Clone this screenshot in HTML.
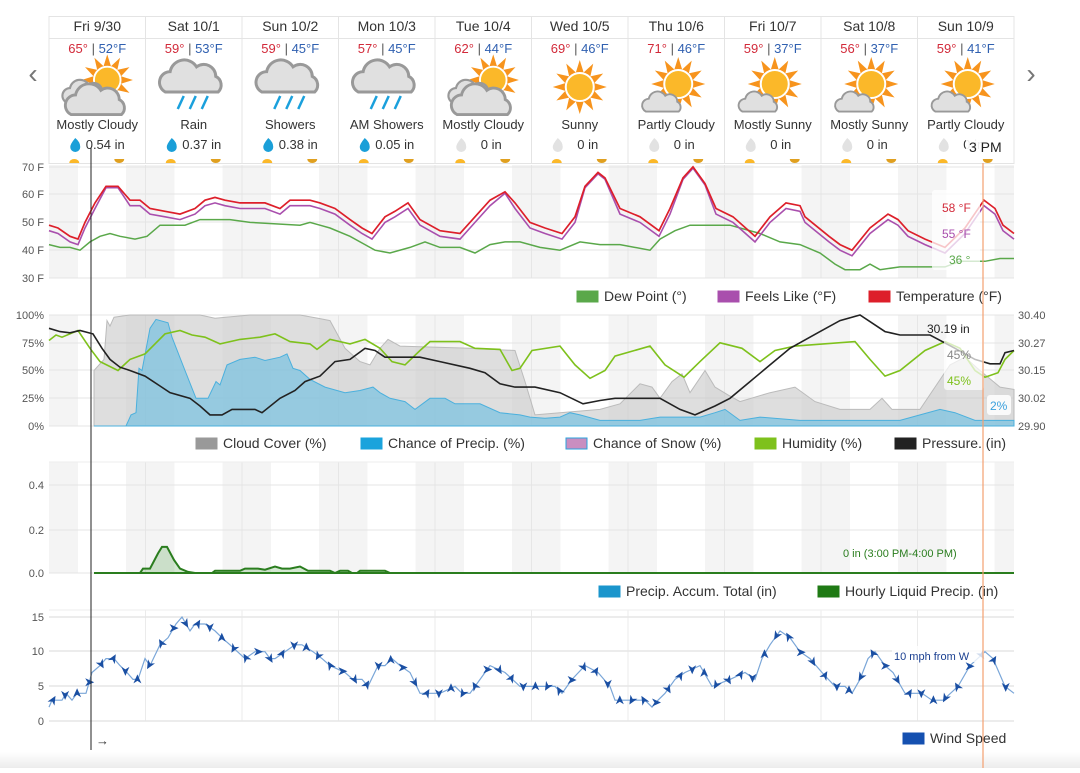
<!DOCTYPE html>
<html><head><meta charset="utf-8"><style>
body{margin:0;background:#fff;width:1080px;height:768px;overflow:hidden;font-family:"Liberation Sans",sans-serif;}
svg text{font-family:"Liberation Sans",sans-serif;}
</style></head><body>
<svg id="s" width="1080" height="768" xmlns="http://www.w3.org/2000/svg">
<defs>
<linearGradient id="bg" x1="0" y1="0" x2="0" y2="1"><stop offset="0" stop-color="#fff"/><stop offset="1" stop-color="#ececec"/></linearGradient>
<g id="sun"><polygon id="ray" fill="#f7941d" points=""/><circle r="14" fill="#fbb829" stroke="#fff" stroke-width="2"/></g>
<g id="cloud"><path d="M-22,10 a9,9 0 0 1 4,-17 a12,12 0 0 1 22,-4 a10,10 0 0 1 16,8 a8,8 0 0 1 2,13 z" fill="#e0e0e0" stroke="#999" stroke-width="2.5"/></g>
</defs>
<rect x="0" y="752" width="1080" height="16" fill="url(#bg)"/>
<g id="g"></g>
</svg>
<script>
const NS="http://www.w3.org/2000/svg";
const G=document.getElementById('g');
function el(t,a,txt){const e=document.createElementNS(NS,t);for(const k in a)e.setAttribute(k,a[k]);if(txt!==undefined)e.textContent=txt;G.appendChild(e);return e;}
(function(){let p=[];for(let i=0;i<24;i++){const a=i*Math.PI/12-Math.PI/2;const r=i%2?15:27;p.push((r*Math.cos(a)).toFixed(1)+','+(r*Math.sin(a)).toFixed(1));}document.getElementById('ray').setAttribute('points',p.join(' '));})();
const X0=49,X1=1014,DW=96.5;
const charts=[[165,278],[315,426],[462,573]];
charts.forEach(([t,b])=>{
 el('rect',{x:X0,y:t,width:X1-X0,height:b-t,fill:'#fff'});
 for(let d=0;d<10;d++){const s=X0+d*DW;
  el('rect',{x:s,y:t,width:29,height:b-t,fill:'#f4f4f4'});
  el('rect',{x:s+77,y:t,width:Math.min(19.5,X1-s-77),height:b-t,fill:'#f4f4f4'});}
 for(let d=1;d<10;d++){el('line',{x1:X0+d*DW,x2:X0+d*DW,y1:t,y2:b,stroke:'#e6e6e6'});}
});
for(let d=1;d<10;d++)el('line',{x1:X0+d*DW,x2:X0+d*DW,y1:610,y2:721,stroke:'#ebebeb'});
[167,194,222,250,278].forEach((y,i)=>{el('line',{x1:X0,x2:X1,y1:y,y2:y,stroke:'#e4e4e4'});el('text',{x:44,y:y+4,'font-size':11,fill:'#555','text-anchor':'end'},(70-10*i)+' F');});
[315,343,370,398,426].forEach((y,i)=>{el('line',{x1:X0,x2:X1,y1:y,y2:y,stroke:'#e4e4e4'});el('text',{x:44,y:y+4,'font-size':11,fill:'#555','text-anchor':'end'},['100%','75%','50%','25%','0%'][i]);el('text',{x:1018,y:y+4,'font-size':11,fill:'#555'},['30.40','30.27','30.15','30.02','29.90'][i]);});
[485,530,573].forEach((y,i)=>{el('line',{x1:X0,x2:X1,y1:y,y2:y,stroke:'#e4e4e4'});el('text',{x:44,y:y+4,'font-size':11,fill:'#555','text-anchor':'end'},['0.4','0.2','0.0'][i]);});
el('line',{x1:X0,x2:X1,y1:462,y2:462,stroke:'#eee'});
[617,651,686,721].forEach((y,i)=>{el('line',{x1:X0,x2:X1,y1:y,y2:y,stroke:'#e6e6e6','stroke-width':1.5});el('text',{x:44,y:y+4,'font-size':11,fill:'#555','text-anchor':'end'},['15','10','5','0'][i]);});
el('line',{x1:X0,x2:X1,y1:610,y2:610,stroke:'#eee'});
function path(pts,fy){return pts.map((p,i)=>(i?'L':'M')+p[0]+','+fy(p[1]).toFixed(1)).join(' ');}
function area(pts,fy,base){return path(pts,fy)+' L'+pts[pts.length-1][0]+','+base+' L'+pts[0][0]+','+base+' Z';}
const fp=v=>426-v*1.11;
const cloud=[[94,50],[104,60],[107,95],[110,90],[114,98],[130,100],[200,100],[215,97],[250,100],[300,100],[318,97],[330,95],[345,70],[360,58],[370,55],[380,70],[388,78],[400,72],[470,70],[515,68],[525,40],[535,10],[560,12],[600,15],[620,20],[640,38],[652,35],[660,25],[672,40],[682,47],[690,30],[705,50],[715,35],[728,28],[740,22],[770,30],[795,35],[815,22],[840,15],[870,15],[882,25],[892,15],[920,15],[935,35],[950,55],[965,62],[980,50],[1000,35],[1014,33]];
el('path',{d:area(cloud,fp,426),fill:'#c8c8c8','fill-opacity':0.6,stroke:'#bbb'});
const pc=[[94,0],[126,0],[131,10],[136,12],[139,52],[142,50],[150,88],[156,96],[168,93],[172,80],[185,50],[196,25],[208,25],[216,40],[220,37],[227,55],[240,60],[255,62],[265,59],[280,62],[287,65],[293,52],[300,50],[310,42],[325,35],[345,30],[360,32],[373,35],[380,30],[390,25],[405,22],[415,15],[430,25],[445,25],[455,20],[480,20],[500,12],[520,10],[530,8],[545,7],[560,8],[570,12],[580,10],[600,5],[640,5],[660,8],[700,8],[715,12],[725,15],[740,5],[760,8],[800,5],[850,5],[900,5],[920,10],[940,15],[955,12],[975,5],[1014,5]];
el('path',{d:area(pc,fp,426),fill:'#7dc3e0','fill-opacity':0.75,stroke:'#4bb0dd'});
const hum=[[49,77],[56,82],[62,80],[78,86],[90,70],[100,58],[118,50],[130,60],[145,65],[165,83],[180,86],[192,82],[205,80],[220,74],[240,78],[260,80],[275,83],[290,76],[310,74],[317,69],[330,78],[350,74],[365,78],[380,70],[392,58],[405,55],[420,68],[430,76],[460,76],[475,70],[500,69],[512,50],[520,52],[532,68],[560,72],[575,55],[590,43],[605,50],[615,63],[650,72],[665,55],[684,44],[700,58],[720,75],[742,70],[760,58],[775,68],[795,72],[855,76],[870,60],[885,45],[900,50],[925,68],[945,76],[960,70],[975,50],[985,44],[998,48],[1005,60],[1014,68]];
el('path',{d:path(hum,fp),fill:'none',stroke:'#7ec11c','stroke-width':1.6});
const pr=[[49,88],[60,85],[70,84],[80,86],[93,83],[102,70],[110,60],[120,53],[130,50],[145,45],[160,36],[170,30],[190,25],[200,18],[210,10],[222,10],[232,15],[255,15],[262,12],[280,25],[295,32],[305,40],[320,45],[335,58],[350,60],[365,70],[375,68],[385,62],[420,62],[440,58],[470,52],[485,48],[500,38],[515,35],[535,35],[560,30],[583,20],[600,23],[615,25],[660,25],[680,15],[695,10],[715,18],[730,25],[750,40],[770,55],[790,70],[820,85],[840,95],[860,100],[885,85],[900,82],[930,82],[955,70],[975,60],[990,56],[1000,56],[1005,66],[1014,68]];
el('path',{d:path(pr,fp),fill:'none',stroke:'#222','stroke-width':1.6});
const ft=v=>278-(v-30)*2.78;
const temp=[[49,49],[58,48],[70,45],[78,44],[85,50],[95,57],[106,63],[118,63],[130,58],[140,58],[150,55],[165,54],[180,53],[195,55],[205,58],[215,59],[225,58],[240,57],[255,57],[265,57],[280,55],[290,58],[310,58],[320,57],[335,55],[350,51],[362,48],[372,46],[385,52],[395,54],[408,57],[420,51],[440,47],[460,46],[475,52],[490,58],[505,61],[515,57],[530,50],[545,48],[562,46],[575,52],[585,63],[598,68],[605,66],[620,55],[640,52],[659,47],[670,55],[683,66],[693,70],[705,64],[716,55],[733,52],[755,45],[770,52],[786,57],[800,56],[805,52],[829,45],[840,42],[852,40],[870,48],[888,53],[898,51],[908,47],[925,44],[945,41],[965,48],[984,58],[995,55],[1003,49],[1014,46]];
const feels=temp.map(p=>[p[0],p[1]>=60?p[1]-0.5:p[1]-2]);
const dew=[[49,42],[60,41],[70,41],[80,40],[90,43],[100,45],[110,46],[120,45],[135,44],[147,45],[160,49],[185,49],[200,51],[230,51],[250,50],[300,49],[310,50],[320,49],[330,48],[350,45],[365,42],[375,40],[390,39],[410,41],[425,43],[440,41],[460,41],[475,39],[490,42],[505,43],[520,43],[540,41],[560,40],[580,43],[600,42],[620,42],[650,40],[660,44],[675,47],[690,49],[730,49],[760,46],[780,43],[800,42],[820,39],[835,35],[845,33],[860,33],[870,35],[880,33],[900,34],[945,34],[960,36],[975,36],[985,36],[1000,37],[1014,37]];
el('path',{d:path(dew,ft),fill:'none',stroke:'#5aa84a','stroke-width':1.5});
el('path',{d:path(feels,ft),fill:'none',stroke:'#a94fad','stroke-width':1.6});
el('path',{d:path(temp,ft),fill:'none',stroke:'#dd1f2a','stroke-width':1.7});
const fq=v=>573-v*217.5;
const lp=[[94,0],[140,0],[143,0.02],[150,0.02],[158,0.09],[162,0.12],[167,0.12],[174,0.06],[180,0.02],[188,0.005],[195,0],[212,0],[215,0.01],[240,0.01],[245,0.02],[258,0.02],[265,0.015],[275,0.03],[282,0.02],[290,0.02],[300,0.03],[308,0.01],[330,0.01],[335,0],[340,0.01],[348,0.01],[352,0],[357,0],[360,0.01],[385,0.01],[390,0],[1014,0]];
el('path',{d:area(lp,fq,573),fill:'#2a8a1f','fill-opacity':0.2,stroke:'#2a7d1e','stroke-width':2});
const fw=v=>721-v*6.93;
const wind=[[49,2],[52,3],[62,3],[66,4],[72,3],[77,4],[86,4],[92,7],[100,8],[106,9],[114,9],[120,8],[127,7],[133,6],[138,6],[145,9],[150,8],[160,11],[168,12],[176,14],[182,15],[190,13],[195,14],[205,14],[215,13],[222,12],[230,11],[245,9],[255,10],[265,10],[270,9],[275,9],[285,10],[295,11],[302,11],[313,10],[322,9],[330,8],[345,7],[353,6],[362,6],[368,5],[378,8],[385,8],[392,9],[400,8],[410,7],[420,4],[440,4],[455,5],[462,4],[470,4],[475,5],[490,8],[505,7],[520,5],[555,5],[562,4],[572,6],[585,8],[598,7],[610,5],[615,3],[645,3],[652,2],[658,3],[665,4],[675,6],[685,7],[700,8],[712,5],[730,6],[745,7],[755,6],[762,9],[770,11],[775,12],[780,13],[790,12],[800,10],[810,9],[822,7],[835,5],[845,5],[852,4],[860,6],[868,9],[875,10],[885,8],[893,7],[905,4],[922,4],[932,3],[943,3],[958,5],[970,8],[985,10],[993,9],[1005,5],[1014,4]];
el('path',{d:path(wind,fw),fill:'none',stroke:'#7aa6d8','stroke-width':1.2});
function interp(x){for(let i=1;i<wind.length;i++){if(wind[i][0]>=x){const a=wind[i-1],b=wind[i];return a[1]+(b[1]-a[1])*(x-a[0])/(b[0]-a[0]);}}return 4;}
for(let x=53;x<1012;x+=12.06){const v=interp(x),y=fw(v);const ang=[0,-60,-90,-120,60,90,120][Math.floor(x*7.3)%7];
 el('path',{d:'M5,0 L-4,-4 L-1.5,0 L-4,4 Z',fill:'#1a4fa3',transform:`translate(${x.toFixed(1)},${y.toFixed(1)}) rotate(${ang})`});}
el('rect',{x:X0,y:16.5,width:X1-X0,height:147,fill:'#fff',stroke:'#e4e4e4'});
el('line',{x1:X0,x2:X1,y1:38.5,y2:38.5,stroke:'#e4e4e4'});
const days=[['Fri 9/30','65°','52°F','Mostly Cloudy','0.54 in','mc',1],['Sat 10/1','59°','53°F','Rain','0.37 in','rain',1],['Sun 10/2','59°','45°F','Showers','0.38 in','sh',1],['Mon 10/3','57°','45°F','AM Showers','0.05 in','sh',1],['Tue 10/4','62°','44°F','Mostly Cloudy','0 in','mc',0],['Wed 10/5','69°','46°F','Sunny','0 in','sun',0],['Thu 10/6','71°','46°F','Partly Cloudy','0 in','pc',0],['Fri 10/7','59°','37°F','Mostly Sunny','0 in','pc',0],['Sat 10/8','56°','37°F','Mostly Sunny','0 in','pc',0],['Sun 10/9','59°','41°F','Partly Cloudy','0 in','pc',0]];
days.forEach((d,i)=>{const c=X0+i*DW+DW/2;
 if(i)el('line',{x1:X0+i*DW,x2:X0+i*DW,y1:16.5,y2:163,stroke:'#e4e4e4'});
 el('text',{x:c,y:31,'font-size':14,fill:'#333','text-anchor':'middle'},d[0]);
 const t=el('text',{x:c,y:53,'font-size':13,'text-anchor':'middle'});
 const a=document.createElementNS(NS,'tspan');a.setAttribute('fill','#d22a3a');a.textContent=d[1]+' ';t.appendChild(a);
 const b=document.createElementNS(NS,'tspan');b.setAttribute('fill','#555');b.textContent='| ';t.appendChild(b);
 const cc=document.createElementNS(NS,'tspan');cc.setAttribute('fill','#3060b0');cc.textContent=d[2];t.appendChild(cc);
 const k=d[5];
 if(k=='mc'){el('use',{href:'#sun',transform:`translate(${c+10},80) scale(0.95)`});el('use',{href:'#cloud',transform:`translate(${c-12},94) scale(0.85)`});el('use',{href:'#cloud',transform:`translate(${c-1},103) scale(1.15)`});}
 else if(k=='sun'){el('use',{href:'#sun',transform:`translate(${c},87)`});}
 else if(k=='pc'){el('use',{href:'#sun',transform:`translate(${c+2},84)`});el('use',{href:'#cloud',transform:`translate(${c-14},104) scale(0.75)`});}
 else{el('use',{href:'#cloud',transform:`translate(${c-2},80) scale(1.2)`});
  for(let j=0;j<3;j++){const xx=c-14+j*12;el('line',{x1:xx+4,y1:96,x2:xx-2,y2:109,stroke:'#1aa0dc','stroke-width':2.5});}}
 el('text',{x:c,y:129,'font-size':13,fill:'#333','text-anchor':'middle'},d[3]);
 el('path',{d:`M${c-22},138 q-5,6 -5,9 a5,5 0 0 0 10,0 q0,-5 -5,-9z`,fill:d[6]?'#1a9fd8':'#e2e2e2'});
 el('text',{x:c+8,y:149,'font-size':13,fill:'#333','text-anchor':'middle'},d[4]);
 el('path',{d:`M${c-28},163 a5,4 0 0 1 10,0z`,fill:'#fbb829'});
 el('path',{d:`M${c+17},159 a5,4 0 0 0 10,0z`,fill:'#e0a020'});
});
el('text',{x:33,y:83,'font-size':28,fill:'#777','text-anchor':'middle'},'‹');
el('text',{x:1031,y:83,'font-size':28,fill:'#777','text-anchor':'middle'},'›');
function sw(x,y,c,st){el('rect',{x:x,y:y-10,width:21,height:11,fill:c,stroke:st||c});}
const L=[[301,[[577,'#5aa84a','Dew Point (°)'],[718,'#a94fad','Feels Like (°F)'],[869,'#dd1f2a','Temperature (°F)']]],
[448,[[196,'#999','Cloud Cover (%)'],[361,'#1aa3dc','Chance of Precip. (%)'],[566,'#c98ec0','Chance of Snow (%)','#2aa3dc'],[755,'#7ec11c','Humidity (%)'],[895,'#222','Pressure. (in)']]],
[596,[[599,'#1a95cc','Precip. Accum. Total (in)'],[818,'#1f7a14','Hourly Liquid Precip. (in)']]],
[743,[[903,'#1550b0','Wind Speed']]]];
L.forEach(([y,items])=>items.forEach(([x,c,t,st])=>{sw(x,y,c,st);el('text',{x:x+27,y:y,'font-size':14,fill:'#333'},t);}));
el('rect',{x:932,y:190,width:48,height:80,rx:3,fill:'#fff','fill-opacity':0.75});
el('text',{x:942,y:212,'font-size':12,fill:'#d22a3a'},'58 °F');
el('text',{x:942,y:238,'font-size':12,fill:'#a94fad'},'55 °F');
el('text',{x:949,y:264,'font-size':12,fill:'#5aa84a'},'36 °');
el('rect',{x:944,y:338,width:40,height:52,rx:3,fill:'#fff','fill-opacity':0.7});
el('text',{x:927,y:333,'font-size':12,fill:'#222'},'30.19 in');
el('text',{x:947,y:359,'font-size':12,fill:'#888'},'45%');
el('text',{x:947,y:385,'font-size':12,fill:'#7ec11c'},'45%');
el('rect',{x:987,y:395,width:24,height:20,rx:3,fill:'#fff','fill-opacity':0.85});
el('text',{x:990,y:410,'font-size':12,fill:'#3aa0dd'},'2%');
el('text',{x:843,y:557,'font-size':11,fill:'#2a7d1e'},'0 in (3:00 PM-4:00 PM)');
el('rect',{x:892,y:646,width:92,height:16,fill:'#fff','fill-opacity':0.8});
el('text',{x:894,y:660,'font-size':11,fill:'#1a3f90'},'10 mph from W');
el('rect',{x:966,y:136,width:44,height:20,fill:'#fff','fill-opacity':0.9});
el('text',{x:969,y:152,'font-size':14,fill:'#222'},'3 PM');
el('text',{x:96,y:745,'font-size':13,fill:'#333'},'→');
el('line',{x1:91,x2:91,y1:148,y2:750,stroke:'#222','stroke-width':1});
el('line',{x1:983,x2:983,y1:163,y2:768,stroke:'#f4a070','stroke-width':1.2});
</script>
</body></html>
